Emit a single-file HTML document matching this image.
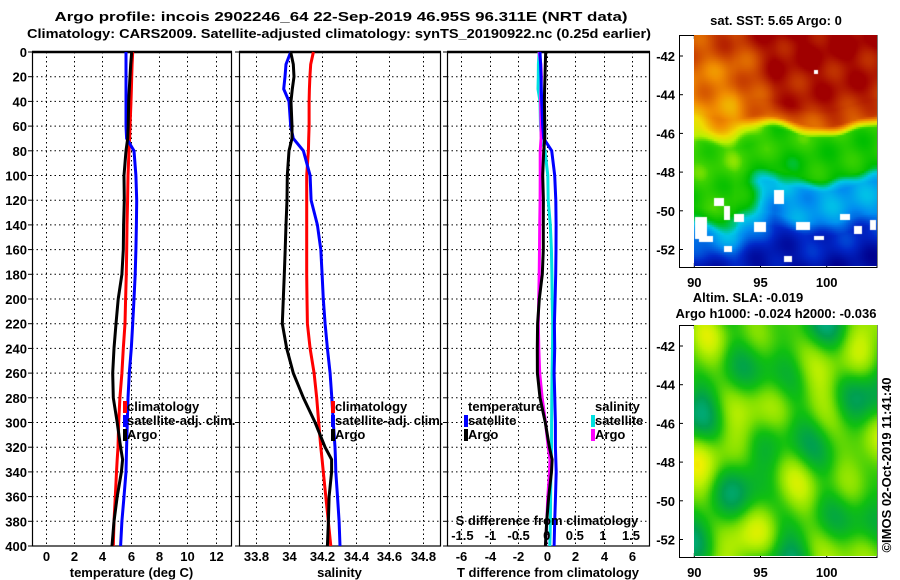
<!DOCTYPE html>
<html><head><meta charset="utf-8"><style>
html,body{margin:0;padding:0;background:#fff;width:900px;height:580px;overflow:hidden}
svg{position:absolute;left:0;top:0}
canvas{position:absolute}
text{font-family:"Liberation Sans",sans-serif;font-weight:bold;font-size:13px;fill:#000}
</style></head><body>
<svg id="s" width="900" height="580"></svg>
<canvas id="sst" width="183" height="231" style="left:694px;top:35px"></canvas>
<canvas id="sla" width="183" height="231" style="left:694px;top:325px"></canvas>
<script>
const depths=[0,10,20,30,40,60,70,80,100,120,140,160,180,200,220,240,260,280,300,320,330,340,360,380,400];
const argoT=[6.07,6.0,5.95,5.9,5.86,5.82,5.79,5.67,5.53,5.55,5.5,5.48,5.38,5.12,4.96,4.82,4.73,4.77,5.05,5.29,5.43,5.34,5.05,4.82,4.68];
const climT=[6.14,6.1,6.07,6.05,6.02,5.95,5.92,5.88,5.81,5.78,5.74,5.72,5.69,5.64,5.6,5.48,5.38,5.24,5.15,5.1,5.05,5.0,4.91,4.82,4.77];
const satT=[5.67,5.67,5.67,5.67,5.67,5.67,5.71,6.23,6.37,6.42,6.4,6.37,6.32,6.23,6.14,6.04,5.9,5.81,5.76,5.71,5.69,5.67,5.53,5.38,5.29];
const argoS=[34.01,34.026,34.03,34.02,34.012,34.018,34.018,34.0,33.99,33.988,33.982,33.977,33.972,33.966,33.96,33.986,34.026,34.086,34.156,34.216,34.255,34.255,34.24,34.236,34.23];
const climS=[34.146,34.13,34.125,34.122,34.12,34.12,34.118,34.116,34.106,34.106,34.106,34.106,34.106,34.108,34.11,34.126,34.15,34.166,34.178,34.19,34.198,34.205,34.22,34.235,34.25];
const satS=[34.01,33.982,33.976,33.968,34.0,34.01,34.026,34.086,34.126,34.132,34.17,34.19,34.198,34.205,34.216,34.23,34.246,34.256,34.265,34.275,34.278,34.28,34.29,34.3,34.305];
const depthTicks=[0,20,40,60,80,100,120,140,160,180,200,220,240,260,280,300,320,340,360,380,400];
const tTicks=[0,2,4,6,8,10,12];
const sTicks=[33.8,34,34.2,34.4,34.6,34.8];
const dTTicks=[-6,-4,-2,0,2,4,6];
const dSTicks=[-1.5,-1,-0.5,0,0.5,1,1.5];
const dSLabels=["-1.5","-1","-0.5","0","0.5","1","1.5"];
const latTicks=[-42,-44,-46,-48,-50,-52];
const lonTicks=[90,95,100];

const NS="http://www.w3.org/2000/svg";
const svg=document.getElementById('s');
function el(tag,attrs,parent){const e=document.createElementNS(NS,tag);for(const k in attrs)e.setAttribute(k,attrs[k]);(parent||svg).appendChild(e);return e;}
function txt(x,y,s,anchor,extra){const t=el('text',Object.assign({x:x,y:y,'text-anchor':anchor||'start'},extra||{}));t.textContent=s;return t;}
const Y0=52,Y1=546;
const yD=d=>Y0+(d/400)*(Y1-Y0);
function lin(d0,d1,r0,r1){return v=>r0+(v-d0)/(d1-d0)*(r1-r0);}

let t1=txt(341,21,"Argo profile: incois 2902246_64 22-Sep-2019 46.95S 96.311E (NRT data)","middle",{'font-size':'14',textLength:'573',lengthAdjust:'spacingAndGlyphs'});


let t2=txt(339,38,"Climatology: CARS2009. Satellite-adjusted climatology: synTS_20190922.nc (0.25d earlier)","middle",{'font-size':'14',textLength:'624',lengthAdjust:'spacingAndGlyphs'});



function panel(name,x0,x1,xs,ticks,labels,title){
  const g=el('g',{});
  
  
  depthTicks.forEach(d=>{
    el('line',{x1:x0,x2:x1,y1:yD(d),y2:yD(d),stroke:'#000','stroke-width':1,'stroke-dasharray':'1.5,3'},g);
    el('line',{x1:x0-4,x2:x0,y1:yD(d),y2:yD(d),stroke:'#000','stroke-width':1},g);
  });
  ticks.forEach((v,i)=>{
    const x=Math.round(xs(v))+0.5;
    el('line',{x1:x,x2:x,y1:Y0,y2:Y1,stroke:'#000','stroke-width':1,'stroke-dasharray':'1.5,3'},g);
    const l=txt(x,561,labels[i],'middle',{},g);g.appendChild(l);
  });
  el('rect',{x:x0+0.5,y:Y0,width:x1-x0,height:Y1-Y0,fill:'none',stroke:'#000','stroke-width':1.2},g);
  el('line',{x1:x0,x2:x1+1,y1:Y0,y2:Y0,stroke:'#000','stroke-width':2.5},g);
  const tt=txt((x0+x1)/2,577,title,'middle');g.appendChild(tt);
  return g;
}
function series(g,name,vals,xs,color){
  const pts=vals.map((v,i)=>xs(v).toFixed(1)+','+yD(depths[i]).toFixed(1)).join(' ');
  const p=el('polyline',{points:pts,fill:'none',stroke:color,'stroke-width':3,'stroke-linejoin':'miter'},g);
  
  
}
function legend(g,x,y,color,label,name){
  const r=el('rect',{x:x-3,y:y-10,width:4,height:12,fill:color},g);
  const t=txt(x+1,y,label,'start');g.appendChild(t);
  
  
}

const xT=lin(0,12,45.7,215.7);
const g1=panel('temperature-panel',32,231,xT,tTicks,tTicks.map(String),'temperature (deg C)');
series(g1,'temperature-climatology-line',climT,xT,'#ff0000');
series(g1,'temperature-satellite-line',satT,xT,'#0000ff');
series(g1,'temperature-argo-line',argoT,xT,'#000000');
legend(g1,126,411,'#ff0000','climatology','legend-climatology');
legend(g1,126,425,'#0000ff','satellite-adj. clim.','legend-satellite-adj');
legend(g1,126,439,'#000000','Argo','legend-argo');

const xS=lin(34,34.8,289,422.7);
const g2=panel('salinity-panel',239,440,xS,sTicks,sTicks.map(v=>String(+v.toFixed(1))),'salinity');
series(g2,'salinity-climatology-line',climS,xS,'#ff0000');
series(g2,'salinity-satellite-line',satS,xS,'#0000ff');
series(g2,'salinity-argo-line',argoS,xS,'#000000');
legend(g2,334,411,'#ff0000','climatology','legend-climatology-s');
legend(g2,334,425,'#0000ff','satellite-adj. clim.','legend-satellite-adj-s');
legend(g2,334,439,'#000000','Argo','legend-argo-s');

const xDT=lin(0,6,546.7,632.2);
const xDS=lin(0,1.5,546.7,631);
const g3=panel('difference-panel',447,649,xDT,dTTicks,dTTicks.map(String),'T difference from climatology');
series(g3,'s-diff-satellite-line',satS.map((v,i)=>v-climS[i]),xDS,'#00e0e0');
series(g3,'s-diff-argo-line',argoS.map((v,i)=>v-climS[i]),xDS,'#ff00ff');
series(g3,'t-diff-satellite-line',satT.map((v,i)=>v-climT[i]),xDT,'#0000ff');
series(g3,'t-diff-argo-line',argoT.map((v,i)=>v-climT[i]),xDT,'#000000');
let lt=txt(468,411,'temperature');g3.appendChild(lt);
legend(g3,467,425,'#0000ff','satellite','legend-t-satellite');
legend(g3,467,439,'#000000','Argo','legend-t-argo');
let ls=txt(595,411,'salinity');g3.appendChild(ls);
legend(g3,594,425,'#00e0e0','satellite','legend-s-satellite');
legend(g3,594,439,'#ff00ff','Argo','legend-s-argo');
let sdt=txt(547,525,'S difference from climatology','middle');g3.appendChild(sdt);


dSTicks.forEach((v,i)=>{const t=txt(xDS(v),540,dSLabels[i],'middle');g3.appendChild(t);});

depthTicks.forEach(d=>{const t=txt(27,yD(d)+5,String(d),'end');
 
 });

function mapFrame(name,top,bottom,title1,title2,y1,y2,x1){
  const g=el('g',{});
  
  
  const latY=lat=>top+21+(-42-lat)*19.35;
  el('rect',{x:679.5,y:top+0.5,width:197.5,height:bottom-top,fill:'none',stroke:'#000','stroke-width':1},g);
  latTicks.forEach(l=>{const y=latY(l);
    el('line',{x1:679,x2:683,y1:y,y2:y,stroke:'#000'},g);
    el('line',{x1:873,x2:877,y1:y,y2:y,stroke:'#000'},g);
    g.appendChild(txt(675,y+5,String(l),'end'));});
  const lonX=lo=>694.3+(lo-90)*13.24;
  lonTicks.forEach(lo=>{const x=lonX(lo);
    el('line',{x1:x,x2:x,y1:bottom-4,y2:bottom,stroke:'#000'},g);
    el('line',{x1:x,x2:x,y1:top,y2:top+4,stroke:'#000'},g);
    g.appendChild(txt(x,bottom+20,String(lo),'middle'));});
  const a=txt(x1,y1,title1,'middle');g.appendChild(a);
  if(title2){g.appendChild(txt(776,y2,title2,'middle'));}
  return g;
}
mapFrame('sst-map-frame',35,267,'sat. SST: 5.65 Argo: 0',null,25,0,776);
mapFrame('sla-map-frame',325,557,'Altim. SLA: -0.019','Argo h1000: -0.024 h2000: -0.036',302,318,748);
let stamp=txt(0,0,'©IMOS 02-Oct-2019 11:41:40','middle',{transform:'translate(891,465) rotate(-90)','font-weight':'normal','font-size':'12'});



function cmap(stops,v){v=Math.max(0,Math.min(1,v));for(let i=1;i<stops.length;i++){if(v<=stops[i][0]){const a=stops[i-1],b=stops[i],f=(v-a[0])/(b[0]-a[0]);return [0,1,2].map(k=>Math.round(a[1][k]+(b[1][k]-a[1][k])*f));}}return stops[stops.length-1][1];}
const jet=[[0,[0,0,140]],[0.12,[0,40,200]],[0.25,[0,140,240]],[0.35,[0,200,230]],[0.45,[0,190,0]],[0.55,[60,210,0]],[0.62,[190,240,0]],[0.7,[240,220,0]],[0.8,[240,140,0]],[0.88,[210,80,0]],[1,[160,0,0]]];
const east=[[-41,1.0],[-44.5,0.95],[-45.3,0.86],[-45.9,0.52],[-48,0.47],[-48.7,0.3],[-50.3,0.26],[-51,0.12],[-53,0.04]];
const west=[[-41,0.9],[-42.5,0.84],[-45,0.79],[-45.7,0.7],[-46.5,0.55],[-49.8,0.5],[-50.5,0.42],[-51,0.3],[-52,0.16],[-53,0.05]];
function prof(p,lat){for(let i=1;i<p.length;i++){if(lat>=p[i][0]){const a=p[i-1],b=p[i],f=(lat-a[0])/(b[0]-a[0]);return a[1]+(b[1]-a[1])*f;}}return p[p.length-1][1];}
(function(){
  const c=document.getElementById('sst').getContext('2d');
  for(let py=0;py<231;py+=2)for(let px=0;px<183;px+=2){
    const lon=90+px/13.24, lat=-40.9-py/19.35;
    let w=Math.max(0,Math.min(1,(lon-93)/3));
    let v=prof(west,lat+0.25*Math.sin(lon*0.9))*(1-w)+prof(east,lat+0.3*Math.sin(lon*0.7+1))*w;
    v+=0.03*Math.sin(lon*2.1+lat*1.3)+0.025*Math.sin(lat*3.1-lon*0.7);
    const col=cmap(jet,v);
    c.fillStyle='rgb('+col+')';c.fillRect(px,py,2,2);
  }
  c.fillStyle='#fff';
  [[1,217,12,22],[5,236,14,6],[20,198,10,8],[30,206,6,14],[40,214,10,8],[60,222,12,10],[80,190,10,14],[102,222,14,8],[120,236,10,4],[146,214,10,6],[160,226,8,8],[176,220,6,10],[120,70,4,4],[30,246,8,6],[90,256,8,6]].forEach(r=>c.fillRect(r[0],r[1]-35,r[2],r[3]));
})();
const grn=[[0,[0,184,176]],[0.25,[0,160,80]],[0.45,[16,192,16]],[0.6,[128,224,0]],[0.72,[192,240,0]],[0.84,[240,240,0]],[0.93,[240,192,0]],[1,[240,128,0]]];
(function(){
  const c=document.getElementById('sla').getContext('2d');
  for(let py=0;py<231;py+=2)for(let px=0;px<183;px+=2){
    const lon=90+px/13.24, lat=-40.9-py/19.35;
    let v=0.5+0.14*Math.sin(lon*0.95+0.7)*Math.cos(lat*0.85+0.4)+0.12*Math.sin(lon*0.6-lat*1.1+1.1)+0.08*Math.cos(lon*1.7+lat*0.7)+0.06*Math.sin(lat*1.9+lon*0.3+2);
    const col=cmap(grn,v);
    c.fillStyle='rgb('+col+')';c.fillRect(px,py,2,2);
  }
})();
</script>
</body></html>
